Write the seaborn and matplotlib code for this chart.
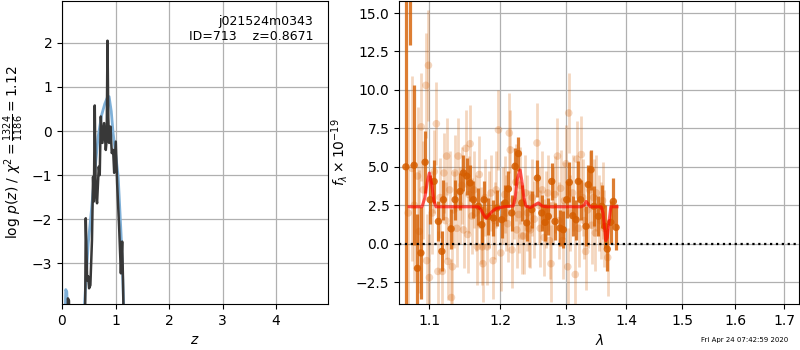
import matplotlib
matplotlib.use("Agg")
import matplotlib.pyplot as plt
from matplotlib.ticker import FixedLocator, FormatStrFormatter, NullLocator
import numpy as np
import pandas as pd
import seaborn as sns

# ---------------- left panel: log p(z) ----------------
pz_z_spike = [0.10, 0.11, 0.13, 0.14]
pz_logp_spike = [-4.6, -3.8, -3.85, -4.6]
pz_z = [0.43, 0.444, 0.47, 0.49, 0.506, 0.53, 0.56, 0.58, 0.595, 0.612, 0.63,
        0.655, 0.687, 0.705, 0.725, 0.756, 0.787, 0.818, 0.835, 0.85, 0.865,
        0.88, 0.906, 0.93, 0.955, 0.975, 1.005, 1.03, 1.067, 1.10, 1.124,
        1.14, 1.155]
pz_logp = [-4.6, -1.98, -3.39, -3.3, -3.57, -3.5, -2.48, -1.04, -1.6, 0.58,
           -1.41, -1.64, -0.81, -1.0, 0.33, -0.27, 0.18, -0.43, -0.2, 2.05,
           0.3, -0.27, 0.1, -0.5, -0.43, -0.95, -0.24, -1.19, -2.17, -3.23,
           -2.51, -3.4, -4.6]
tpl_z_spike = [0.05, 0.07, 0.09, 0.11]
tpl_logp_spike = [-4.6, -3.6, -3.65, -4.6]
tpl_z = [0.38, 0.425, 0.49, 0.55, 0.61, 0.675, 0.74, 0.80, 0.85, 0.88, 0.92,
         0.955, 1.00, 1.05, 1.11, 1.14, 1.17]
tpl_logp = [-4.8, -3.84, -2.55, -1.8, -0.96, -0.13, 0.36, 0.62, 0.77, 0.78,
            0.45, -0.05, -0.5, -1.04, -2.5, -3.54, -4.6]

# ---------------- right panel: spectrum ----------------
# binned (dark) points
bin_wave = [1.0687, 1.0743, 1.0796, 1.0840, 1.0886, 1.0942, 1.1010, 1.1064,
            1.1122, 1.1169, 1.1191, 1.1297, 1.1352, 1.1422, 1.1468, 1.1516,
            1.1563, 1.1610, 1.1681, 1.1730, 1.1763, 1.1825, 1.1898, 1.1947,
            1.2021, 1.2070, 1.2119, 1.2169, 1.2218, 1.2268, 1.2319, 1.2395,
            1.2471, 1.2557, 1.2625, 1.2676, 1.2727, 1.2780, 1.2832, 1.2911,
            1.2963, 1.3017, 1.3059, 1.3114, 1.3167, 1.3204, 1.3243, 1.3329,
            1.3367, 1.3411, 1.3461, 1.3532, 1.3588, 1.3643, 1.3681, 1.3739,
            1.3783, 1.3829]
bin_flux = [5.0, 17.5, 5.1, -1.6, -0.6, 5.3, 2.86, 4.05, 1.45, -0.5, 2.86,
            0.97, 2.86, 3.4, 4.6, 4.4, 3.95, 2.86, 2.43, 1.24, 2.86, 1.78,
            1.67, 2.32, 1.56, 2.65, 3.56, 2.0, 5.03, 5.86, 2.65, 1.35, 2.21,
            4.27, 2.0, 1.39, 1.78, 4.05, 1.45, 1.02, 0.91, 2.86, 3.99, 1.82,
            1.56, 4.05, 2.86, 1.13, 3.84, 4.81, 2.43, 1.78, 2.43, 1.13, -0.35,
            1.39, 2.75, 1.06]
bin_err = [40.0, 4.6, 5.2, 3.5, 3.0, 2.0, 1.6, 1.4, 1.3, 1.3, 1.3, 1.3, 1.3,
           1.2, 1.2, 1.2, 1.2, 1.2, 1.2, 1.2, 1.2, 1.2, 1.2, 1.2, 1.2, 1.2,
           1.2, 1.2, 1.2, 1.1, 1.2, 1.2, 1.2, 1.2, 1.2, 1.2, 1.2, 1.2, 1.2,
           1.2, 1.2, 1.2, 1.3, 1.3, 1.3, 1.3, 1.3, 1.3, 1.3, 1.3, 1.3, 1.3,
           1.4, 1.4, 1.4, 1.4, 1.5, 1.5]

# unbinned (light) points
raw_wave = [1.0718, 1.0767, 1.0797, 1.0841, 1.0864, 1.0890, 1.0917, 1.0952,
            1.0963, 1.0987, 1.1000, 1.1038, 1.1066, 1.1094, 1.1115, 1.1144,
            1.1175, 1.1197, 1.1221, 1.1235, 1.1253, 1.1277, 1.1301, 1.1315,
            1.1334, 1.1348, 1.1376, 1.1394, 1.1418, 1.1446, 1.1470, 1.1503,
            1.1527, 1.1545, 1.1563, 1.1587, 1.1615, 1.1643, 1.1667, 1.1693,
            1.1714, 1.1738, 1.1746, 1.1777, 1.1808, 1.1834, 1.1862, 1.1893,
            1.1918, 1.1939, 1.1972, 1.2006, 1.2033, 1.2064, 1.2086, 1.2109,
            1.2132, 1.2147, 1.2173, 1.2200, 1.2230, 1.2245, 1.2273, 1.2298,
            1.2321, 1.2348, 1.2374, 1.2405, 1.2427, 1.2450, 1.2480, 1.2511,
            1.2551, 1.2579, 1.2601, 1.2632, 1.2662, 1.2692, 1.2718, 1.2745,
            1.2768, 1.2798, 1.2829, 1.2870, 1.2889, 1.2920, 1.2950, 1.2980,
            1.3007, 1.3033, 1.3049, 1.3077, 1.3110, 1.3154, 1.3180, 1.3208,
            1.3252, 1.3274, 1.3298, 1.3323, 1.3356, 1.3388, 1.3421, 1.3454,
            1.3482, 1.3498, 1.3536, 1.3569, 1.3602, 1.3634, 1.3688]
raw_flux = [2.0, 4.9, 2.5, 4.4, 0.8, 7.6, 3.5, 10.3, -1.1, 11.6, -2.2, 2.0,
            4.7, 7.8, -1.8, 3.0, -1.8, 4.6, 1.5, 5.7, -1.15, 3.5, -3.5, -1.5,
            2.2, 4.6, 1.0, 5.7, 2.5, 3.8, 0.9, 6.2, 0.6, 3.2, 6.5, 1.8, 3.5,
            2.0, -0.2, 4.5, 1.2, -0.2, -1.3, 3.0, -0.2, 2.2, 3.3, -1.1, 1.5,
            3.5, 7.4, -0.6, 2.5, 3.2, 2.0, 1.3, 7.2, 6.1, -0.4, 2.8, 4.0, 0.9,
            1.9, 3.8, 0.5, 0.5, 3.3, 2.0, 1.0, 0.9, 3.0, 1.6, 6.55, 2.5, 1.0,
            3.5, 0.4, 2.2, 3.3, 0.2, -1.3, 2.5, 3.2, 5.7, 1.5, 3.6, 0.2, 2.8,
            5.2, -1.5, 8.5, 2.0, 3.3, -2.0, 5.5, 1.0, 5.8, 3.0, 1.5, -0.5, 2.2,
            3.5, 1.2, 3.0, 0.7, 3.3, 2.0, 1.5, 2.8, 1.0, -0.9]
raw_err = [8.0, 6.0, 5.0, 4.5, 4.0, 3.5, 3.2, 3.4, 3.0, 3.6, 2.8, 2.7, 2.7,
           2.7, 2.6, 2.6, 2.6, 2.6, 2.5, 2.5, 2.5, 2.5, 2.5, 2.5, 2.5, 2.5,
           2.5, 2.5, 2.5, 2.5, 2.5, 2.5, 2.5, 2.5, 2.5, 2.5, 2.5, 2.5, 2.5,
           2.5, 2.5, 2.5, 2.5, 2.5, 2.5, 2.5, 2.5, 2.5, 2.5, 2.5, 2.6, 2.5,
           2.5, 2.5, 2.5, 2.5, 2.6, 2.6, 2.5, 2.5, 2.5, 2.5, 2.5, 2.5, 2.5,
           2.5, 2.5, 2.5, 2.5, 2.5, 2.5, 2.5, 2.6, 2.5, 2.5, 2.5, 2.5, 2.5,
           2.5, 2.5, 2.5, 2.5, 2.5, 2.5, 2.5, 2.5, 2.5, 2.5, 2.5, 2.5, 2.6,
           2.5, 2.5, 2.5, 2.5, 2.5, 2.5, 2.5, 2.5, 2.5, 2.5, 2.5, 2.5, 2.5,
           2.5, 2.5, 2.5, 2.5, 2.5, 2.5, 2.5]

# best-fit model
model_wave = [1.073, 1.090, 1.094, 1.097, 1.100, 1.103, 1.106, 1.109, 1.168,
              1.172, 1.176, 1.179, 1.183, 1.188, 1.194, 1.205, 1.219, 1.222,
              1.225, 1.2294, 1.232, 1.235, 1.238, 1.245, 1.251, 1.257, 1.263,
              1.270, 1.325, 1.330, 1.333, 1.336, 1.340, 1.358, 1.361, 1.3635,
              1.3655, 1.368, 1.3715, 1.374, 1.3845]
model_flux = [2.4, 2.4, 3.0, 4.0, 4.6, 3.9, 2.8, 2.4, 2.4, 2.2, 1.85, 1.65,
              1.85, 2.1, 2.3, 2.4, 2.45, 3.0, 4.2, 4.8, 4.1, 3.0, 2.45, 2.35,
              2.5, 2.65, 2.45, 2.4, 2.4, 2.5, 2.75, 2.6, 2.4, 2.4, 2.0, 1.0,
              0.2, 0.4, 1.6, 2.4, 2.4]

lam_ticks = [1.1, 1.2, 1.3, 1.4, 1.5, 1.6, 1.7]
z_ticks = [0, 1, 2, 3, 4]
logp_ticks = [-3, -2, -1, 0, 1, 2]
flux_ticks = [-2.5, 0.0, 2.5, 5.0, 7.5, 10.0, 12.5, 15.0]

title_text = "j021524m0343\nID=713    z=0.8671"
stamp_text = "Fri Apr 24 07:42:59 2020"

ORANGE = "#D55E00"

fig = plt.figure(figsize=(8, 3.5), dpi=100)
ax1 = fig.add_axes([0.0775, 0.131, 0.3325, 0.866])
ax2 = fig.add_axes([0.499, 0.131, 0.500, 0.866])

# --- left panel
sns.lineplot(x=tpl_z_spike, y=tpl_logp_spike, ax=ax1, color="#7fb0d8", lw=2, sort=False)
sns.lineplot(x=tpl_z, y=tpl_logp, ax=ax1, color="#7fb0d8", lw=2, sort=False)
sns.lineplot(x=pz_z_spike, y=pz_logp_spike, ax=ax1, color="#383838", lw=1.8, sort=False)
sns.lineplot(x=pz_z, y=pz_logp, ax=ax1, color="#383838", lw=1.8, sort=False)
ax1.set_xlim(0, 4.97)
ax1.set_ylim(-3.93, 2.95)
ax1.set_xticks(z_ticks)
ax1.set_yticks(logp_ticks)
ax1.grid(True, color="#b0b0b0", lw=0.9)
ax1.set_axisbelow(True)
ax1.set_xlabel(r"$z$", fontsize=10)
ax1.set_ylabel(r"$\log\,p(z)$ / $\chi^2=\frac{1324}{1186}=1.12$", fontsize=10)
ax1.text(0.945, 0.955, title_text, transform=ax1.transAxes, ha="right",
         va="top", fontsize=9, linespacing=1.2)

# --- right panel
raw = pd.DataFrame({"wave": raw_wave, "flux": raw_flux, "err": raw_err})
binned = pd.DataFrame({"wave": bin_wave, "flux": bin_flux, "err": bin_err})
model = pd.DataFrame({"wave": model_wave, "flux": model_flux})

ax2.errorbar(raw["wave"], raw["flux"], yerr=raw["err"], fmt="none",
             ecolor=ORANGE, alpha=0.25, elinewidth=2.0)
sns.scatterplot(data=raw, x="wave", y="flux", ax=ax2, color=ORANGE,
                alpha=0.25, s=30, edgecolor="none")
ax2.errorbar(binned["wave"], binned["flux"], yerr=binned["err"], fmt="none",
             ecolor=ORANGE, alpha=0.8, elinewidth=2.3)
sns.scatterplot(data=binned, x="wave", y="flux", ax=ax2, color=ORANGE,
                alpha=0.85, s=28, edgecolor="none")
sns.lineplot(data=model, x="wave", y="flux", ax=ax2, color="red", alpha=0.65,
             lw=2.2, sort=False)
ax2.axhline(0, color="k", ls=":", lw=1.6)

ax2.set_xscale("log")
ax2.set_xlim(1.06, 1.731)
ax2.xaxis.set_major_locator(FixedLocator(lam_ticks))
ax2.xaxis.set_major_formatter(FormatStrFormatter("%.1f"))
ax2.xaxis.set_minor_locator(NullLocator())
ax2.set_ylim(-3.93, 15.78)
ax2.set_yticks(flux_ticks)
ax2.grid(True, color="#b0b0b0", lw=0.9)
ax2.set_axisbelow(True)
ax2.set_xlabel(r"$\lambda$", fontsize=10)
ax2.set_ylabel(r"$f_\lambda \times 10^{-19}$", fontsize=10)

for ax in (ax1, ax2):
    ax.tick_params(labelsize=10)

fig.text(0.985, 0.02, stamp_text, ha="right", va="bottom", fontsize=5)

fig.savefig("out.png", dpi=100)
